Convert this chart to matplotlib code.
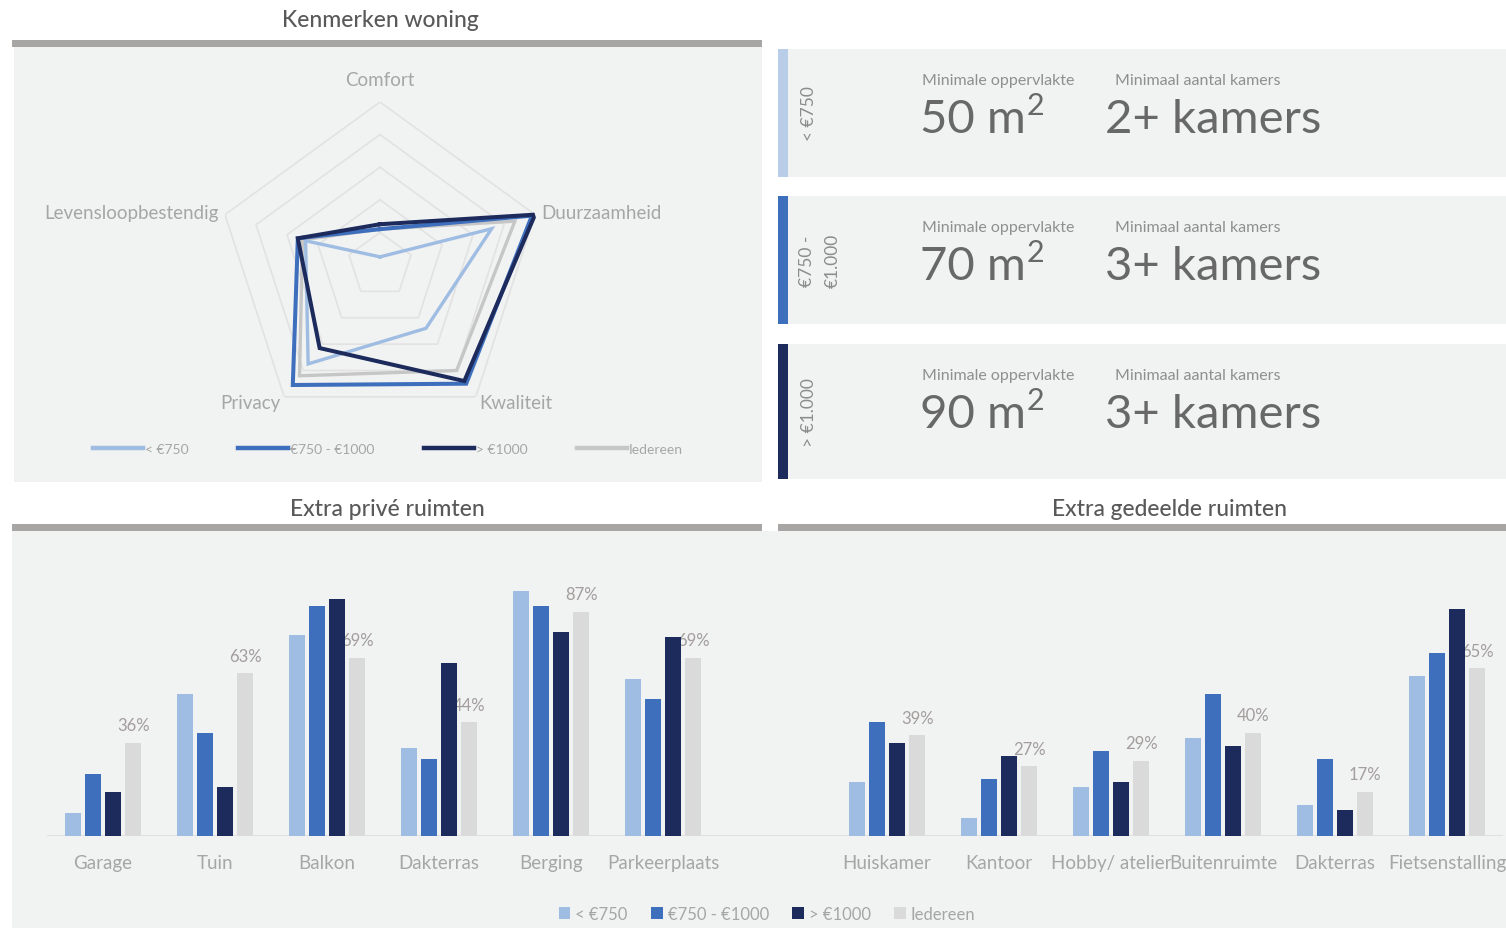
import numpy as np
import matplotlib
matplotlib.use("Agg")
import matplotlib.pyplot as plt
from matplotlib.patches import Rectangle
from matplotlib.lines import Line2D

plt.rcParams["font.family"] = ["Lato", "DejaVu Sans"]

# === Data ===

series_names = ["< €750", "€750 - €1000", "> €1000", "Iedereen"]

radar_axes = ["Comfort", "Duurzaamheid", "Kwaliteit", "Privacy", "Levensloopbestendig"]
radar_lt750 = [0.05, 0.72, 0.48, 0.75, 0.48]
radar_750_1000 = [0.22, 0.98, 0.90, 0.91, 0.53]
radar_gt1000 = [0.25, 1.00, 0.88, 0.63, 0.53]
radar_iedereen = [0.22, 0.87, 0.80, 0.84, 0.50]

priv_categories = ["Garage", "Tuin", "Balkon", "Dakterras", "Berging", "Parkeerplaats"]
priv_lt750 = [9, 55, 78, 34, 95, 61]
priv_750_1000 = [24, 40, 89, 30, 89, 53]
priv_gt1000 = [17, 19, 92, 67, 79, 77]
priv_iedereen = [36, 63, 69, 44, 87, 69]

ged_categories = ["Huiskamer", "Kantoor", "Hobby/ atelier", "Buitenruimte", "Dakterras", "Fietsenstalling"]
ged_lt750 = [21, 7, 19, 38, 12, 62]
ged_750_1000 = [44, 22, 33, 55, 30, 71]
ged_gt1000 = [36, 31, 21, 35, 10, 88]
ged_iedereen = [39, 27, 29, 40, 17, 65]

box_labels = ["< €750", "€750 -\n€1.000", "> €1.000"]
min_area = ["50 m", "70 m", "90 m"]
min_rooms = ["2+ kamers", "3+ kamers", "3+ kamers"]

# === Style ===

C_LIGHT = "#9fbce2"
C_MID = "#3e6fbd"
C_DARK = "#1c2b5c"
C_GRAY_BAR = "#dadada"
C_GRAY_LINE = "#c6c6c6"
series_colors = [C_LIGHT, C_MID, C_DARK, C_GRAY_BAR]
stripe_colors = ["#b9cde8", C_MID, C_DARK]
PANEL = "#f1f2f2"
TXT = "#a6a6a6"
TITLE = "#595959"
BIG = "#686868"

W, H = 1506, 929


def fig_rect(x0, y0, x1, y1):
    return [x0 / W, 1 - y1 / H, (x1 - x0) / W, (y1 - y0) / H]


fig = plt.figure(figsize=(W / 100, H / 100), dpi=100)
fig.patch.set_facecolor("white")
renderer = fig.canvas.get_renderer()

# === Background layer (pixel coords) ===

bg = fig.add_axes([0, 0, 1, 1], zorder=0)
bg.set_xlim(0, W)
bg.set_ylim(H, 0)
bg.axis("off")

bg.add_patch(Rectangle((14, 48), 748, 435, color=PANEL, lw=0))
bg.add_patch(Rectangle((12, 532), W - 12, H - 532, color=PANEL, lw=0))

for x0, x1, y0 in [(12, 762, 41), (12, 762, 525), (778, W, 525)]:
    bg.add_patch(Rectangle((x0, y0), x1 - x0, 7, color="#a8a6a5", lw=0))

for x, y, s in [(380, 20, "Kenmerken woning"), (387, 510, "Extra privé ruimten"),
                (1170, 510, "Extra gedeelde ruimten")]:
    bg.text(x, y, s, ha="center", va="center", fontsize=16.5,
            color=TITLE, fontweight="medium")

# === Right info boxes ===

box_tops = [50, 197, 345]
box_bottoms = [178, 325, 480]
for i in range(3):
    y0, y1 = box_tops[i], box_bottoms[i]
    bg.add_patch(Rectangle((788, y0), W - 788, y1 - y0, color=PANEL, lw=0))
    bg.add_patch(Rectangle((778, y0), 10, y1 - y0, color=stripe_colors[i], lw=0))
    lx = 820 if "\n" in box_labels[i] else 809
    bg.text(lx, (y0 + y1) / 2, box_labels[i], rotation=90, ha="center",
            va="center", fontsize=12.5, color="#8c8c8c", linespacing=1.8)
    bg.text(922, y0 + 31, "Minimale oppervlakte", ha="left", va="center",
            fontsize=11.5, color="#8f8f8f")
    bg.text(1115, y0 + 31, "Minimaal aantal kamers", ha="left", va="center",
            fontsize=11.5, color="#8f8f8f")
    t = bg.text(920, y0 + 70, min_area[i], ha="left", va="center",
                fontsize=34, color=BIG)
    bb = t.get_window_extent(renderer)
    bg.text(bb.x1 + 1, y0 + 56, "2", ha="left", va="center",
            fontsize=22, color=BIG)
    bg.text(1105, y0 + 70, min_rooms[i], ha="left", va="center",
            fontsize=34, color=BIG)

# === Radar chart ===

cx, cy, R = 380, 266, 163
rax = fig.add_axes(fig_rect(cx - R, cy - R, cx + R, cy + R), projection="polar", zorder=2)
rax.set_facecolor("none")
rax.set_theta_zero_location("N")
rax.set_theta_direction(-1)
rax.set_ylim(0, 1)
rax.grid(False)
rax.set_xticks([])
rax.set_yticks([])
rax.spines["polar"].set_visible(False)

angles = np.linspace(0, 2 * np.pi, len(radar_axes), endpoint=False)
closed = np.append(angles, angles[0])
for lvl in [0.2, 0.4, 0.6, 0.8, 1.0]:
    rax.plot(closed, [lvl] * len(closed), color="#e2e2e2", lw=1.2, zorder=1)

radar_series = [radar_iedereen, radar_lt750, radar_750_1000, radar_gt1000]
radar_colors = [C_GRAY_LINE, C_LIGHT, C_MID, C_DARK]
radar_widths = [2.4, 2.4, 2.9, 2.9]
for vals, col, lw in zip(radar_series, radar_colors, radar_widths):
    v = np.append(vals, vals[0])
    rax.plot(closed, v, color=col, lw=lw, solid_joinstyle="miter", zorder=3)

label_pos = [(1.14, "center", "center"), (1.04, "left", "center"),
             (1.04, "left", "center"), (1.04, "right", "center"),
             (1.04, "right", "center")]
for ang, name, (rr, ha, va) in zip(angles, radar_axes, label_pos):
    rax.text(ang, rr, name, ha=ha, va=va, fontsize=13.5, color=TXT)

radar_handles = [Line2D([], [], color=c, lw=3.2) for c in [C_LIGHT, C_MID, C_DARK, C_GRAY_LINE]]
fig.legend(radar_handles, series_names, loc="center", ncol=4, frameon=False,
           bbox_to_anchor=(388 / W, 1 - 450 / H), fontsize=10, labelcolor=TXT,
           handlelength=3.6, handletextpad=0.1, columnspacing=3.6)

# === Bar chart (both groups on one category axis) ===

bax = fig.add_axes(fig_rect(47, 560, 1503, 837), zorder=2)
bax.set_facecolor("none")
px_per_pct = 2.58
bax.set_ylim(0, 277 / px_per_pct)
bax.set_xlim(-0.5, 12.5)
for s in bax.spines.values():
    s.set_visible(False)
bax.axhline(0, color="#dcdcdc", lw=1.2, zorder=1)

positions = np.array(list(range(6)) + list(range(7, 13)))
bar_series = [priv_lt750 + ged_lt750, priv_750_1000 + ged_750_1000,
              priv_gt1000 + ged_gt1000, priv_iedereen + ged_iedereen]
step, width = 0.18, 0.145
for k, (vals, col) in enumerate(zip(bar_series, series_colors)):
    xs = positions + (k - 1.5) * step
    bax.bar(xs, vals, width=width, color=col, zorder=3, label=series_names[k])
    if k == 3:
        for x, v in zip(xs, vals):
            bax.annotate(f"{v}%", (x, v), xytext=(0, 7), textcoords="offset points",
                         ha="center", va="bottom", fontsize=12, color="#a39d9d",
                         zorder=2)

bax.set_xticks(positions)
bax.set_xticklabels(priv_categories + ged_categories, fontsize=13.5, color=TXT)
bax.tick_params(axis="x", length=0, pad=13)
bax.set_yticks([])

fig.legend(*bax.get_legend_handles_labels(), loc="center", ncol=4, frameon=False,
           bbox_to_anchor=(767 / W, 1 - 915 / H), fontsize=12, labelcolor=TXT,
           handlelength=0.7, handleheight=0.7, handletextpad=0.3, columnspacing=1.4)

fig.savefig("out.png", dpi=100)
